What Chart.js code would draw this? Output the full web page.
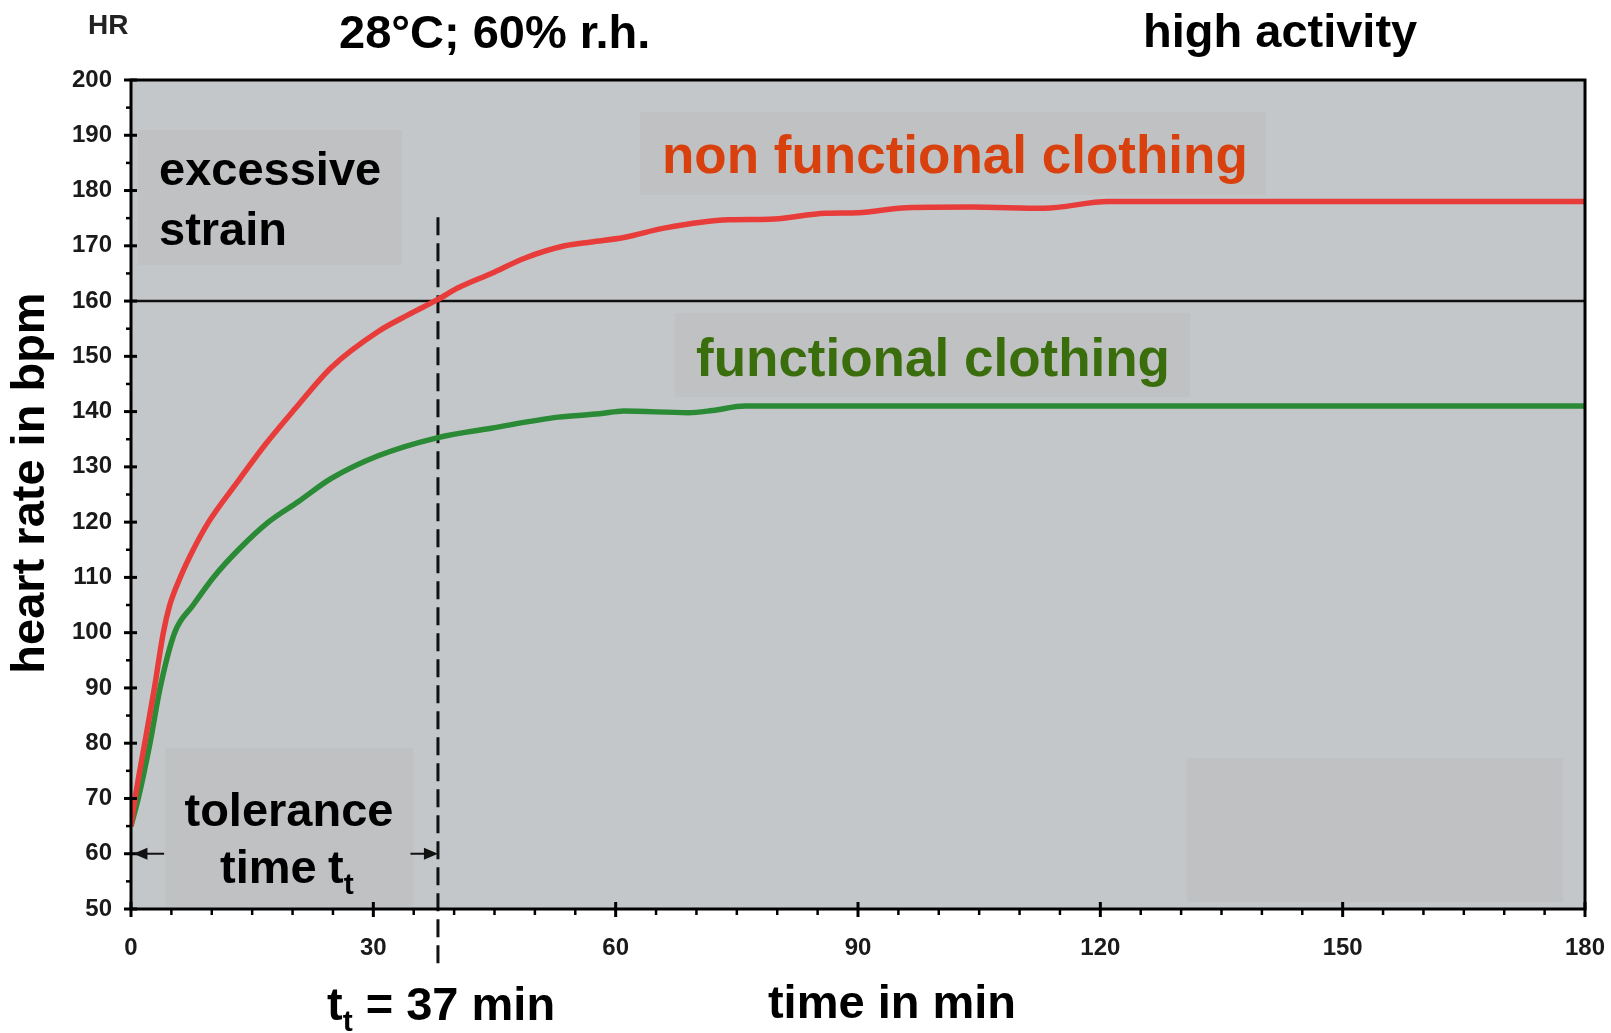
<!DOCTYPE html>
<html lang="en">
<head>
    <meta charset="UTF-8">
    <title>Heart rate – functional vs non functional clothing</title>
    <style>
        html, body {
            margin: 0;
            padding: 0;
            background: #ffffff;
            overflow: hidden;
        }
        #wrap {
            position: relative;
            width: 1611px;
            height: 1033px;
        }
    </style>
</head>
<body>
    <div id="wrap">
        <canvas id="hrChart"></canvas>
    </div>

    <script src="https://cdn.jsdelivr.net/npm/chart.js"></script>
    <script>
        // time in min / heart rate in bpm
        const timeNonFunctional = [0, 0.5, 1.7, 2.9, 4.0, 4.8, 6.1, 7.7, 9.6, 13.3, 16.6, 20.3, 24.8, 30.6, 34.3, 38, 40.5, 44.6, 48.8, 53.7, 57, 61, 66, 74, 79, 86, 90, 96, 104, 113, 121, 135, 150, 165, 180];
        const hrNonFunctional = [65, 70, 80, 90, 100, 105, 110, 115, 120, 127.5, 134, 140.5, 148, 154.5, 157.5, 160.3, 162.4, 165, 167.8, 170, 170.7, 171.5, 173.2, 174.7, 174.8, 175.9, 176, 176.9, 177, 176.8, 178, 178, 178, 178, 178];

        const timeFunctional = [0, 0.9, 2.35, 3.6, 5.4, 7.7, 10.2, 13.3, 17, 20.7, 24.8, 30.6, 38, 44.6, 52.9, 58, 61, 69, 72, 76, 90, 120, 150, 180];
        const hrFunctional = [65, 70, 80, 90, 100, 105, 110, 115, 120, 123.7, 127.9, 132, 135.3, 137, 139, 139.6, 140.1, 139.8, 140.2, 141, 141, 141, 141, 141];

        const strainLimit = 160;             // bpm, "excessive strain" threshold
        const toleranceTime = 38;            // min, where the red curve crosses the limit
        const toleranceSpan = [40.2, 175.7]; // bpm range covered by the dashed marker

        const xTicks = [0, 30, 60, 90, 120, 150, 180];
        const yTicks = [50, 60, 70, 80, 90, 100, 110, 120, 130, 140, 150, 160, 170, 180, 190, 200];

        const FONT = '"Liberation Sans", Arial, Helvetica, sans-serif';

        function toPoints(xs, ys) {
            return xs.map((x, i) => ({ x: x, y: ys[i] }));
        }

        function text(ctx, s, x, y, size, color, align) {
            ctx.font = 'bold ' + size + 'px ' + FONT;
            ctx.fillStyle = color || '#000';
            ctx.textAlign = align || 'left';
            ctx.textBaseline = 'alphabetic';
            ctx.fillText(s, x, y);
            return ctx.measureText(s).width;
        }

        // "t" with subscript "t", then optional rest
        function textSub(ctx, x, y, rest) {
            let w = text(ctx, 't', x, y, 47);
            w += text(ctx, 't', x + w, y + 11, 30);
            if (rest) text(ctx, rest, x + w, y, 47);
        }

        function arrow(ctx, x1, y, x2) {
            const dir = Math.sign(x2 - x1);
            ctx.beginPath();
            ctx.moveTo(x1, y);
            ctx.lineTo(x2 - dir * 10, y);
            ctx.lineWidth = 2;
            ctx.strokeStyle = '#111';
            ctx.stroke();
            ctx.beginPath();
            ctx.moveTo(x2, y);
            ctx.lineTo(x2 - dir * 14, y - 6);
            ctx.lineTo(x2 - dir * 14, y + 6);
            ctx.closePath();
            ctx.fillStyle = '#111';
            ctx.fill();
        }

        const figurePlugin = {
            id: 'figure',
            beforeDatasetsDraw(chart) {
                const { ctx, chartArea: a } = chart;
                ctx.save();
                ctx.fillStyle = '#c4c7ca';
                ctx.fillRect(a.left, a.top, a.right - a.left, a.bottom - a.top);
                // pasted label patches of the original slide
                ctx.fillStyle = '#c0c1c2';
                ctx.fillRect(138, 130, 264, 135);
                ctx.fillRect(165, 748, 248, 159);
                ctx.fillRect(640, 112, 626, 83);
                ctx.fillRect(675, 313, 515, 84);
                ctx.fillRect(1187, 758, 376, 144);
                ctx.restore();
            },
            afterDraw(chart) {
                const { ctx, chartArea: a, scales } = chart;
                const sx = scales.x, sy = scales.y;
                ctx.save();

                // frame
                ctx.strokeStyle = '#000';
                ctx.lineWidth = 3;
                ctx.strokeRect(a.left, a.top, a.right - a.left, a.bottom - a.top);

                // y tick marks
                for (let v = 50; v <= 200; v += 5) {
                    const py = sy.getPixelForValue(v);
                    const major = v % 10 === 0;
                    ctx.beginPath();
                    ctx.moveTo(a.left - (major ? 7 : 5), py);
                    ctx.lineTo(a.left + (major ? 6 : 0), py);
                    ctx.lineWidth = major ? 3 : 2.5;
                    ctx.stroke();
                }
                // x tick marks
                for (let t = 0; t <= 180; t += 5) {
                    const px = sx.getPixelForValue(t);
                    const major = t % 30 === 0;
                    ctx.beginPath();
                    ctx.moveTo(px, a.bottom - (major ? 7 : 0));
                    ctx.lineTo(px, a.bottom + (major ? 8 : 6));
                    ctx.lineWidth = major ? 3 : 2.5;
                    ctx.stroke();
                }

                // tolerance arrows at 60 bpm
                const ay = sy.getPixelForValue(60);
                arrow(ctx, sx.getPixelForValue(4.1), ay, sx.getPixelForValue(0.3));
                arrow(ctx, sx.getPixelForValue(34.6), ay, sx.getPixelForValue(toleranceTime));

                // header and axis titles
                text(ctx, 'HR', 88, 34, 28, '#222');
                text(ctx, '28°C; 60% r.h.', 339, 48, 47);
                text(ctx, 'high activity', 1143, 47, 47);
                text(ctx, 'time in min', 892, 1018, 47, '#000', 'center');

                ctx.save();
                ctx.translate(31, 483);
                ctx.rotate(-Math.PI / 2);
                ctx.font = 'bold 47px ' + FONT;
                ctx.fillStyle = '#000';
                ctx.textAlign = 'center';
                ctx.textBaseline = 'middle';
                ctx.fillText('heart rate in bpm', 0, 0);
                ctx.restore();

                // in-plot labels
                text(ctx, 'excessive', 159, 185, 47);
                text(ctx, 'strain', 159, 245, 47);
                text(ctx, 'non functional clothing', 662, 173, 53, '#d8400e');
                text(ctx, 'functional clothing', 696, 376, 53, '#3a6d0b');
                text(ctx, 'tolerance', 289, 826, 47, '#000', 'center');
                text(ctx, 'time ', 220, 883, 47);
                textSub(ctx, 328, 883);
                textSub(ctx, 327, 1020, ' = 37 min');

                ctx.restore();
            }
        };

        const ctx = document.getElementById('hrChart').getContext('2d');
        new Chart(ctx, {
            type: 'line',
            data: {
                datasets: [
                    {
                        label: 'non functional clothing',
                        data: toPoints(timeNonFunctional, hrNonFunctional),
                        borderColor: '#e83c3a',
                        borderWidth: 5.5,
                        pointRadius: 0,
                        cubicInterpolationMode: 'monotone',
                        order: 0
                    },
                    {
                        label: 'functional clothing',
                        data: toPoints(timeFunctional, hrFunctional),
                        borderColor: '#2a8a36',
                        borderWidth: 5.5,
                        pointRadius: 0,
                        cubicInterpolationMode: 'monotone',
                        order: 0
                    },
                    {
                        label: 'strain limit',
                        data: [{ x: 0, y: strainLimit }, { x: 180, y: strainLimit }],
                        borderColor: '#111',
                        borderWidth: 2.5,
                        pointRadius: 0,
                        order: 1
                    },
                    {
                        label: 'tolerance time',
                        data: [{ x: toleranceTime, y: toleranceSpan[0] }, { x: toleranceTime, y: toleranceSpan[1] }],
                        borderColor: '#111',
                        borderWidth: 3,
                        borderDash: [18, 8],
                        pointRadius: 0,
                        clip: false,
                        order: 1
                    }
                ]
            },
            options: {
                responsive: true,
                maintainAspectRatio: false,
                animation: false,
                events: [],
                layout: { padding: { top: 80, right: 26, left: 0, bottom: 0 } },
                plugins: {
                    legend: { display: false },
                    tooltip: { enabled: false }
                },
                scales: {
                    x: {
                        type: 'linear',
                        min: 0,
                        max: 180,
                        grid: { display: false, drawTicks: false },
                        border: { display: false },
                        afterBuildTicks(scale) {
                            scale.ticks = xTicks.map(v => ({ value: v }));
                        },
                        afterFit(scale) {
                            scale.height = 124;
                            scale.paddingLeft = 0;
                            scale.paddingRight = 0;
                        },
                        ticks: {
                            padding: 25,
                            color: '#1a1a1a',
                            maxRotation: 0,
                            autoSkip: false,
                            font: { family: FONT, size: 24, weight: 'bold' }
                        }
                    },
                    y: {
                        min: 50,
                        max: 200,
                        grid: { display: false, drawTicks: false },
                        border: { display: false },
                        afterBuildTicks(scale) {
                            scale.ticks = yTicks.map(v => ({ value: v }));
                        },
                        afterFit(scale) {
                            scale.width = 131;
                            scale.paddingTop = 0;
                            scale.paddingBottom = 0;
                        },
                        ticks: {
                            padding: 19,
                            color: '#1a1a1a',
                            font: { family: FONT, size: 24, weight: 'bold' }
                        }
                    }
                }
            },
            plugins: [figurePlugin]
        });
    </script>
</body>
</html>
